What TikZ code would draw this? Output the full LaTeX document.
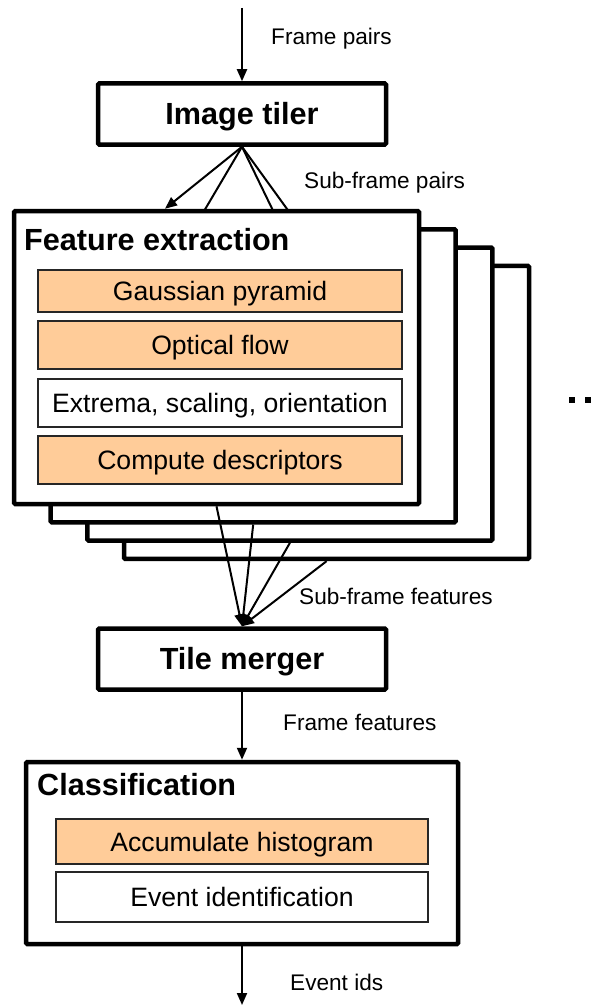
\documentclass[tikz,border=0pt]{standalone}
\usepackage{fontspec}
\setmainfont{Liberation Sans}
\usetikzlibrary{arrows.meta,backgrounds}
\definecolor{stageorange}{HTML}{FFCC99}

\begin{document}
\begin{tikzpicture}[x=1pt,y=-1pt,
  block/.style={draw=black, line width=4.5pt, fill=white, rounded corners=1.2pt, inner sep=0pt},
  headfont/.style={font=\bfseries\fontsize{30.6}{36}\selectfont, inner sep=0pt},
  boxhead/.style={headfont, text height=21.9pt, text depth=0pt},
  stage/.style={draw=black!85, line width=1.2pt, inner sep=0pt, minimum width=364pt,
                font=\fontsize{26.6}{30}\selectfont, text height=19pt, text depth=0pt},
  accel/.style={stage, fill=stageorange},
  plainstage/.style={stage, fill=white},
  flowlabel/.style={font=\fontsize{22.6}{26}\selectfont, inner sep=0pt, anchor=base west},
  flow/.style={line width=2pt, -{Triangle[length=12pt,width=10pt]}},
]
\useasboundingbox (0,0) rectangle (600,1006);

% image tiler
\node[block, boxhead, minimum width=288pt, minimum height=61pt] (tiler) at (242,114) {Image tiler};

% stacked feature-extraction tiles, back to front
\node[block, minimum width=405pt, minimum height=293pt] (fe4) at (326.6,412.4) {};
\node[block, minimum width=405pt, minimum height=293pt] (fe3) at (289.9,394.1) {};
\node[block, minimum width=405pt, minimum height=293pt] (fe2) at (253.2,375.8) {};
\node[block, minimum width=405pt, minimum height=293pt] (fe)  at (216.5,357.5) {};

\node[headfont, anchor=base west] (fetitle) at (24,250.9) {Feature extraction};
\node[accel, minimum height=42pt] (gauss) at (220,291) {Gaussian pyramid};
\node[accel, minimum height=48pt] (oflow) at (220,345) {Optical flow};
\node[plainstage, minimum height=48pt] (extrema) at (220,403) {Extrema, scaling, orientation};
\node[accel, minimum height=48pt] (descr) at (220,460) {Compute descriptors};

% tile merger
\node[block, boxhead, minimum width=288pt, minimum height=61pt] (merger) at (242,659) {Tile merger};

% classification
\node[block, minimum width=432pt, minimum height=182pt] (classif) at (242,853) {};
\node[headfont, anchor=base west] (cltitle) at (37,795.9) {Classification};
\node[accel, minimum width=372pt, minimum height=45pt] (hist) at (242,841.5) {Accumulate histogram};
\node[plainstage, minimum width=372pt, minimum height=50pt] (eventid) at (242,897) {Event identification};

% sub-frame pairs going to the hidden tiles
\begin{pgfonlayer}{background}
  \draw[flow] (tiler.south) -- ([xshift=-58.6pt]fe2.north);
  \draw[flow] (tiler.south) -- (fe3.north);
  \draw[flow] (tiler.south) -- (fe4.north);
\end{pgfonlayer}

% connectors
\coordinate (src) at (242,8);
\coordinate (sink) at (242,1005);
\draw[flow] (src) -- (tiler.north);
\draw[flow] (tiler.south) -- ([xshift=-51.5pt]fe.north);
\draw[flow] (fe.south) -- (merger.north);
\draw[flow] (fe2.south) -- (merger.north);
\draw[flow] (fe3.south) -- (merger.north);
\draw[flow] (fe4.south) -- (merger.north);
\draw[flow] (merger.south) -- (classif.north);
\draw[flow] (classif.south) -- (sink);

% labels
\node[flowlabel] (lblpairs) at (271,45) {Frame pairs};
\node[flowlabel] (lblsub) at (304,188) {Sub-frame pairs};
\node[flowlabel] (lblsubfeat) at (299,604) {Sub-frame features};
\node[flowlabel] (lblfeat) at (283,730) {Frame features};
\node[flowlabel] (lblids) at (290,990) {Event ids};

% continuation marks
\fill (569,397) rectangle (575,403);
\fill (585,397) rectangle (591,403);
\end{tikzpicture}
\end{document}
